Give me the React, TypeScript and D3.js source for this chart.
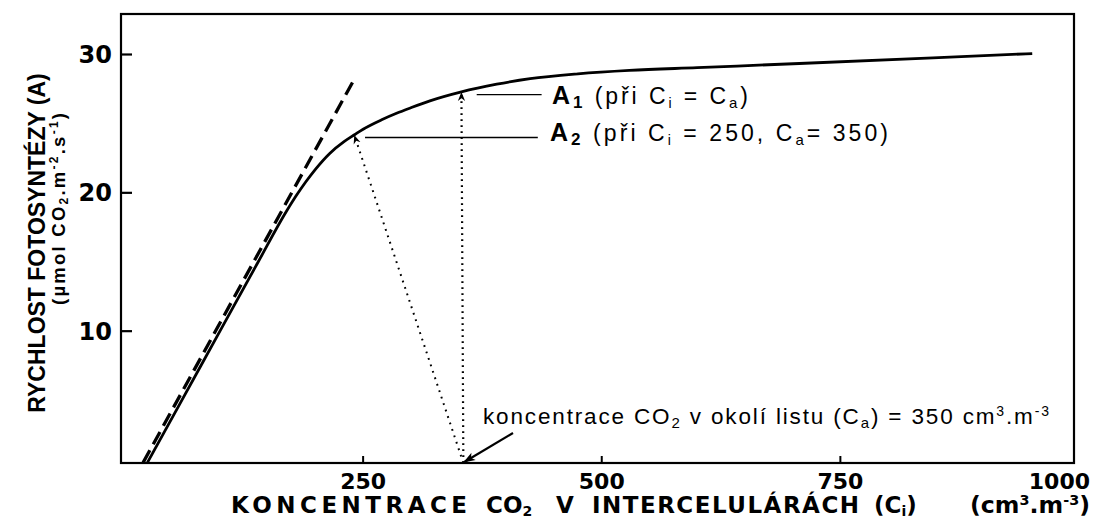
import React from "react";
import * as d3 from "d3";

// ---- data ----
const ciValues = [24, 60, 100, 140, 170, 180, 190, 200, 215, 230, 241, 250, 270, 285, 300, 320, 353, 390, 425, 475, 529, 600, 707, 847, 951];
const aValues = [0.5, 5.0, 10.0, 15.0, 18.7, 19.8, 20.8, 21.7, 22.85, 23.7, 24.2, 24.6, 25.3, 25.75, 26.15, 26.65, 27.3, 27.85, 28.25, 28.6, 28.85, 29.05, 29.35, 29.76, 30.07];
const tangentCi = [19.5, 239];
const tangentA = [0.5, 28.0];
const xTicks = [250, 500, 750, 1000];
const yTicks = [10, 20, 30];
const caValue = 350; // ambient CO2
const a1Point = { ci: 353, a: 27.3 };
const a2Point = { ci: 241, a: 24.2 };

const W = 1095;
const H = 519;
const frame = { left: 121, right: 1074, top: 14, bottom: 463 };

const FONT = "'Liberation Sans', Arial, sans-serif";
const FONT_WIDE = "'DejaVu Sans', 'Liberation Sans', sans-serif";

export default function App() {
  const x = d3.scaleLinear().domain([0, 1000]).range([124.5, 1079]);
  const y = d3.scaleLinear().domain([0, 30]).range([469.5, 54.5]);

  const curve = d3
    .line<number>()
    .x((_, i) => x(ciValues[i]))
    .y((d) => y(d))
    .curve(d3.curveMonotoneX)(aValues) as string;

  const tangent = d3
    .line<number>()
    .x((_, i) => x(tangentCi[i]))
    .y((d) => y(d))(tangentA) as string;

  const baseX = x(caValue + 5);
  const baseY = frame.bottom;

  return (
    <svg
      width={W}
      height={H}
      style={{ position: "absolute", left: 0, top: 0, background: "#fff" }}
      xmlns="http://www.w3.org/2000/svg"
    >
      <defs>
        <marker id="arrSmall" viewBox="0 0 10 10" refX="9" refY="5" markerWidth="9" markerHeight="9" markerUnits="userSpaceOnUse" orient="auto">
          <path d="M0,1 L10,5 L0,9 L3,5 Z" fill="#000" />
        </marker>
        <marker id="arrBig" viewBox="0 0 10 10" refX="9" refY="5" markerWidth="16" markerHeight="12" markerUnits="userSpaceOnUse" orient="auto">
          <path d="M0,1.5 L10,5 L0,8.5 L2.5,5 Z" fill="#000" />
        </marker>
      </defs>

      {/* frame */}
      <rect
        x={frame.left}
        y={frame.top}
        width={frame.right - frame.left}
        height={frame.bottom - frame.top}
        fill="none"
        stroke="#000"
        strokeWidth={2.2}
      />

      {/* y ticks */}
      {yTicks.map((t) => (
        <g key={"y" + t}>
          <line x1={frame.left} x2={frame.left + 11} y1={y(t)} y2={y(t)} stroke="#000" strokeWidth={2.2} />
          <text x={112} y={y(t)} dy="0.36em" textAnchor="end" fontFamily={FONT_WIDE} fontWeight="bold" fontSize={24}>
            {t}
          </text>
        </g>
      ))}

      {/* x ticks */}
      {xTicks.map((t, i) => (
        <g key={"x" + t}>
          {t < 1000 && (
            <line x1={x(t)} x2={x(t)} y1={frame.bottom} y2={frame.bottom - 7} stroke="#000" strokeWidth={2} />
          )}
          <text
            x={i === xTicks.length - 1 ? x(t) + 11 : x(t)}
            y={489}
            textAnchor={i === xTicks.length - 1 ? "end" : "middle"}
            fontFamily={FONT_WIDE}
            fontWeight="bold"
            fontSize={22}
          >
            {t}
          </text>
        </g>
      ))}

      {/* tangent (dashed) */}
      <path d={tangent} fill="none" stroke="#000" strokeWidth={3.3} strokeDasharray="14 7" />
      {/* response curve */}
      <path d={curve} fill="none" stroke="#000" strokeWidth={2.8} strokeLinejoin="round" />

      {/* dotted arrows from Ca to curve */}
      <line
        x1={baseX}
        y1={baseY}
        x2={x(a1Point.ci)}
        y2={y(a1Point.a) + 1}
        stroke="#000"
        strokeWidth={2.2}
        strokeDasharray="1.8 4.2"
        markerEnd="url(#arrSmall)"
      />
      <line
        x1={baseX}
        y1={baseY}
        x2={x(a2Point.ci)}
        y2={y(a2Point.a) + 1}
        stroke="#000"
        strokeWidth={2}
        strokeDasharray="1.8 5"
        markerEnd="url(#arrSmall)"
      />

      {/* leader lines */}
      <line x1={x(369)} x2={x(437)} y1={y(27.1)} y2={y(27.1)} stroke="#000" strokeWidth={1.3} />
      <line x1={x(252)} x2={x(433)} y1={y(24.0)} y2={y(24.0)} stroke="#000" strokeWidth={1.3} />

      {/* annotation texts */}
      <text x={552} y={104} fontFamily={FONT} fontSize={23} textLength={196} lengthAdjust="spacing">
        <tspan fontWeight="bold" fontSize={25}>A</tspan>
        <tspan fontWeight="bold" fontSize={17} dy={4}>1</tspan>
        <tspan dy={-4}>{" (při  C"}</tspan>
        <tspan fontSize={14} dy={4}>i</tspan>
        <tspan dy={-4}>{" = C"}</tspan>
        <tspan fontSize={15} dy={4}>a</tspan>
        <tspan dy={-4}>)</tspan>
      </text>
      <text x={550} y={141} fontFamily={FONT} fontSize={23} textLength={338} lengthAdjust="spacing">
        <tspan fontWeight="bold" fontSize={25}>A</tspan>
        <tspan fontWeight="bold" fontSize={17} dy={4}>2</tspan>
        <tspan dy={-4}>{" (při C"}</tspan>
        <tspan fontSize={14} dy={4}>i</tspan>
        <tspan dy={-4}>{" = 250,  C"}</tspan>
        <tspan fontSize={15} dy={4}>a</tspan>
        <tspan dy={-4}>{"= 350)"}</tspan>
      </text>

      {/* bottom annotation with arrow */}
      <line x1={513} y1={433} x2={x(caValue + 6)} y2={frame.bottom - 1} stroke="#000" strokeWidth={2.2} markerEnd="url(#arrBig)" />
      <text x={483} y={424} fontFamily={FONT} fontSize={22.5} textLength={566} lengthAdjust="spacing">
        <tspan>{"koncentrace CO"}</tspan>
        <tspan fontSize={15} dy={4}>2</tspan>
        <tspan dy={-4}>{" v okolí  listu  (C"}</tspan>
        <tspan fontSize={15} dy={4}>a</tspan>
        <tspan dy={-4}>{") = 350 cm"}</tspan>
        <tspan fontSize={14} dy={-8}>3</tspan>
        <tspan dy={8}>{".m"}</tspan>
        <tspan fontSize={14} dy={-8}>-3</tspan>
      </text>

      {/* x axis title */}
      <g fontFamily={FONT_WIDE} fontWeight="bold" fontSize={23}>
        <text x={231} y={513} textLength={236} lengthAdjust="spacing">KONCENTRACE</text>
        <text x={486} y={513}>
          CO<tspan fontSize={14} dy={3}>2</tspan>
        </text>
        <text x={556} y={513}>V</text>
        <text x={592} y={513} textLength={267} lengthAdjust="spacing">INTERCELULÁRÁCH</text>
        <text x={874} y={513}>
          (C<tspan fontSize={14} dy={3}>i</tspan>
          <tspan dy={-3}>)</tspan>
        </text>
        <text x={970} y={513} textLength={120} lengthAdjust="spacingAndGlyphs">
          (cm<tspan fontSize={14} dy={-8}>3</tspan>
          <tspan dy={8}>.m</tspan>
          <tspan fontSize={14} dy={-8}>-3</tspan>
          <tspan dy={8}>)</tspan>
        </text>
      </g>

      {/* y axis title */}
      <g transform="translate(45,243) rotate(-90)">
        <text x={0} y={0} textAnchor="middle" fontFamily={FONT} fontWeight="bold" fontSize={23}>
          RYCHLOST FOTOSYNTÉZY (A)
        </text>
      </g>
      <g transform="translate(65,209) rotate(-90)">
        <text x={-96} y={0} fontFamily={FONT} fontWeight="bold" fontSize={18.5} textLength={192} lengthAdjust="spacing">
          <tspan>(µmol CO</tspan>
          <tspan fontSize={12} dy={3}>2</tspan>
          <tspan dy={-3}>.m</tspan>
          <tspan fontSize={12} dy={-7}>-2</tspan>
          <tspan dy={7}>.s</tspan>
          <tspan fontSize={12} dy={-7}>-1</tspan>
          <tspan dy={7}>)</tspan>
        </text>
      </g>
    </svg>
  );
}
